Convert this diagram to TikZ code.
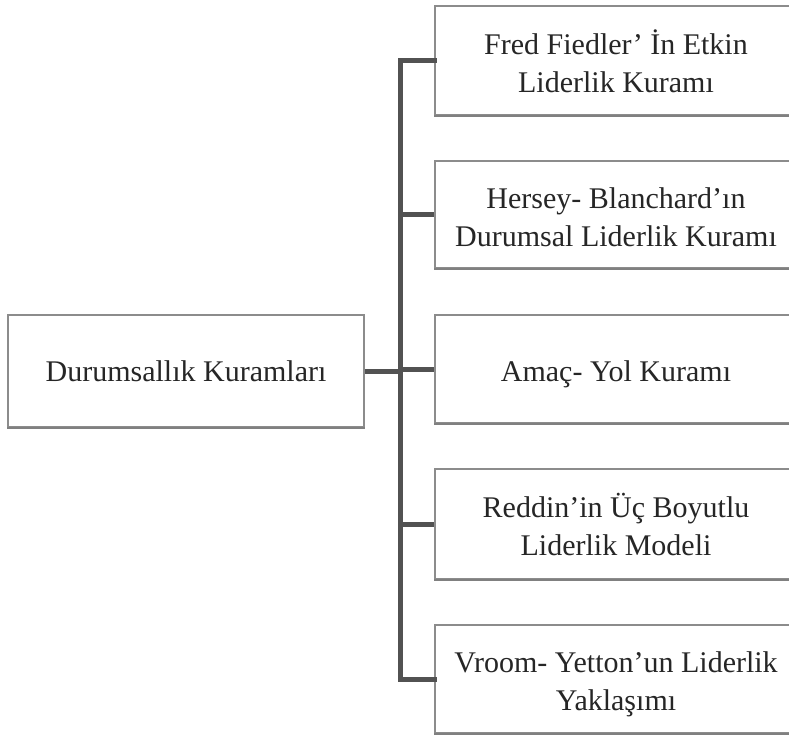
\documentclass[tikz,border=0pt]{standalone}
\usepackage{fontspec}
\setmainfont{Liberation Serif}
% right-hand boxes run past the page edge; the text keeps to their visible part
% and sits a little low in its box
\newcommand{\leaftext}[1]{\raisebox{-5pt}[\height][\depth]{\begin{tabular}{@{}c@{\hspace{16pt}}}#1\end{tabular}}}
\begin{document}
\begin{tikzpicture}[x=1pt,y=-1pt,
  box/.style={draw=black!45, line width=1.1pt, fill=white, rectangle,
    align=center, text=black!85, inner sep=0pt,
    font=\fontsize{30}{38}\selectfont},
  leaf/.style={box, minimum width=378pt},
  bar/.style={draw=black!68, line width=5pt, line join=miter, line cap=rect}]
\clip (0,0) rectangle (789,738);
\fill[white] (0,0) rectangle (789,738);

% root box and the five approaches
\node[box, minimum width=356pt, minimum height=112pt] (root) at (186,371) {Durumsallık Kuramları};
\node[leaf, minimum height=109pt] (b1) at (624,60.5) {\leaftext{Fred Fiedler’ İn Etkin\\Liderlik Kuramı}};
\node[leaf, minimum height=107pt] (b2) at (624,214.5) {\leaftext{Hersey- Blanchard’ın\\Durumsal Liderlik Kuramı}};
\node[leaf, minimum height=108pt] (b3) at (624,369) {\leaftext{Amaç- Yol Kuramı}};
\node[leaf, minimum height=110pt] (b4) at (624,524) {\leaftext{Reddin’in Üç Boyutlu\\Liderlik Modeli}};
\node[leaf, minimum height=108pt] (b5) at (624,679) {\leaftext{Vroom- Yetton’un Liderlik\\Yaklaşımı}};

% heavier lower edges of the boxes
\foreach \n in {root,b1,b2,b3,b4,b5}
  \draw[black!50, line width=2pt] (\n.south west) -- (\n.south east);

% vertical bus
\coordinate (bus) at (400.5,0);
\draw[bar] (b1.west) -- (b1.west -| bus) -- (b5.west -| bus) -- (b5.west);
\foreach \n in {b2,b3,b4}
  \draw[bar, line cap=butt] (\n.west -| bus) -- (\n.west);
\draw[bar, line cap=butt] (root.east) -- (root.east -| bus);
\end{tikzpicture}
\end{document}
